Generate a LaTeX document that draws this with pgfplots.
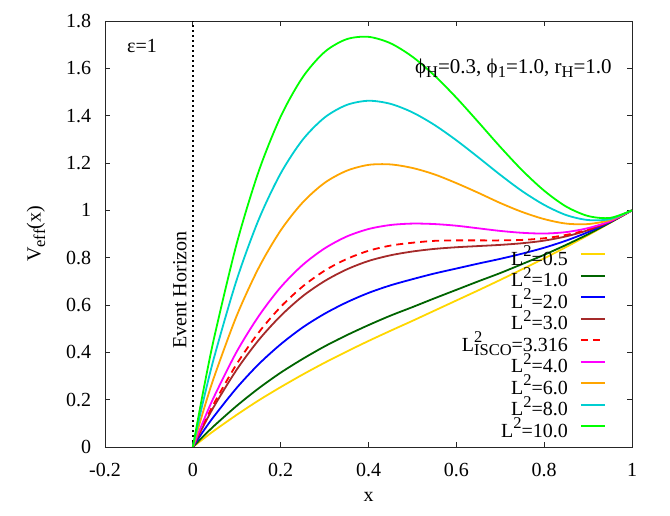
\documentclass[border=0pt]{standalone}
\usepackage{fontspec}
\setmainfont{Liberation Serif}
\usepackage{pgfplots}
\pgfplotsset{compat=1.18}
\definecolor{lcgold}{RGB}{255,215,0}
\definecolor{lcdgreen}{RGB}{0,100,0}
\definecolor{lcblue}{RGB}{0,0,255}
\definecolor{lcbrown}{RGB}{165,42,42}
\definecolor{lcred}{RGB}{255,0,0}
\definecolor{lcmag}{RGB}{255,0,255}
\definecolor{lcorange}{RGB}{255,165,0}
\definecolor{lccyan}{RGB}{0,206,209}
\definecolor{lcgreen}{RGB}{0,255,0}
\newcommand\sups[1]{\raisebox{0.42em}{\fontsize{16.5}{16}\selectfont #1}}
\newcommand\subs[1]{\raisebox{-0.22em}{\fontsize{16.5}{16}\selectfont #1}}
\begin{document}
\fontsize{20}{24}\selectfont
\begin{tikzpicture}[font=\fontsize{20}{24}\selectfont]
\useasboundingbox (-105pt,-69pt) rectangle (565pt,447pt);
\begin{axis}[
  at={(0,0)}, anchor=south west,
  scale only axis, width=527pt, height=426pt,
  xmin=-0.2, xmax=1, ymin=0, ymax=1.8,
  xtick={-0.2,0,0.2,0.4,0.6,0.8,1},
  ytick={0,0.2,0.4,0.6,0.8,1,1.2,1.4,1.6,1.8},
  /pgf/number format/assume math mode=true,
  tick label style={font=\fontsize{20}{24}\selectfont},
  xticklabel style={yshift=-9pt},
  yticklabel style={xshift=-7pt},
  major tick length=5pt,
  axis line style={black!85, line width=0.9pt},
  tick style={black!85, line width=0.9pt},
  xlabel={x}, ylabel={V\subs{eff}(x)},
  every axis x label/.style={at={(axis description cs:0.5,-0.117)}, anchor=center},
  every axis y label/.style={at={(axis description cs:-0.131,0.5)}, rotate=90, anchor=center},
  legend plot pos=right,
  legend cell align=right,
  legend style={draw=none, fill=none, at={(axis description cs:0.951,0.0106)}, anchor=south east,
    inner sep=0pt, row sep=0pt, column sep=11pt,
    nodes={inner sep=1pt, text height=15.5pt, text depth=4pt},
    font=\fontsize{20}{24}\selectfont},
  legend image code/.code={\draw[#1, line width=2pt] (0pt,5.5pt) -- (24pt,5.5pt);},
  every axis plot/.append style={line width=1.8pt, smooth},
]
\addplot[black, line width=1.5pt, dash pattern=on 2pt off 3pt, forget plot, sharp plot] coordinates {(0,0) (0,1.8)};
\addplot[draw=lcgold] coordinates {(0,0) (0.025,0.036) (0.05,0.071) (0.1,0.136) (0.15,0.197) (0.2,0.253) (0.25,0.306) (0.3,0.356) (0.35,0.403) (0.4,0.448) (0.45,0.491) (0.5,0.533) (0.55,0.576) (0.6,0.619) (0.65,0.662) (0.7,0.706) (0.75,0.751) (0.8,0.797) (0.85,0.845) (0.9,0.895) (0.95,0.947) (1,1)};
\addlegendentry{L\sups{2}=0.5}
\addplot[draw=lcdgreen] coordinates {(0,0) (0.025,0.047) (0.05,0.092) (0.1,0.174) (0.15,0.248) (0.2,0.314) (0.25,0.372) (0.3,0.425) (0.35,0.472) (0.4,0.515) (0.45,0.555) (0.5,0.591) (0.55,0.628) (0.6,0.664) (0.65,0.700) (0.7,0.735) (0.75,0.773) (0.8,0.812) (0.85,0.854) (0.9,0.899) (0.95,0.948) (1,1)};
\addlegendentry{L\sups{2}=1.0}
\addplot[draw=lcblue] coordinates {(0,0) (0.025,0.070) (0.05,0.134) (0.1,0.250) (0.15,0.350) (0.2,0.434) (0.25,0.505) (0.3,0.563) (0.35,0.611) (0.4,0.651) (0.45,0.683) (0.5,0.709) (0.55,0.733) (0.6,0.754) (0.65,0.775) (0.7,0.795) (0.75,0.817) (0.8,0.842) (0.85,0.872) (0.9,0.908) (0.95,0.950) (1,1)};
\addlegendentry{L\sups{2}=2.0}
\addplot[draw=lcbrown] coordinates {(0,0) (0.025,0.092) (0.05,0.177) (0.1,0.327) (0.15,0.452) (0.2,0.554) (0.25,0.637) (0.3,0.701) (0.35,0.750) (0.4,0.786) (0.45,0.810) (0.5,0.826) (0.55,0.837) (0.6,0.844) (0.65,0.849) (0.7,0.854) (0.75,0.861) (0.8,0.872) (0.85,0.890) (0.9,0.916) (0.95,0.952) (1,1)};
\addlegendentry{L\sups{2}=3.0}
\addplot[draw=lcred, dash pattern=on 7pt off 5pt] coordinates {(0,0) (0.025,0.099) (0.05,0.190) (0.1,0.351) (0.15,0.484) (0.2,0.592) (0.25,0.678) (0.3,0.745) (0.35,0.794) (0.4,0.829) (0.45,0.851) (0.5,0.863) (0.55,0.871) (0.6,0.873) (0.65,0.873) (0.7,0.873) (0.75,0.875) (0.8,0.882) (0.85,0.896) (0.9,0.919) (0.95,0.953) (1,1)};
\addlegendentry{L\rlap{\sups{2}}\subs{ISCO}=3.316}
\addplot[draw=lcmag] coordinates {(0,0) (0.025,0.114) (0.05,0.219) (0.1,0.403) (0.15,0.553) (0.2,0.675) (0.25,0.769) (0.3,0.839) (0.35,0.889) (0.4,0.921) (0.45,0.938) (0.5,0.944) (0.55,0.942) (0.6,0.935) (0.65,0.924) (0.7,0.913) (0.75,0.905) (0.8,0.902) (0.85,0.908) (0.9,0.925) (0.95,0.954) (1,1)};
\addlegendentry{L\sups{2}=4.0}
\addplot[draw=lcorange] coordinates {(0,0) (0.025,0.159) (0.05,0.304) (0.1,0.555) (0.15,0.757) (0.2,0.915) (0.25,1.033) (0.3,1.116) (0.35,1.167) (0.4,1.192) (0.45,1.194) (0.5,1.179) (0.55,1.152) (0.6,1.115) (0.65,1.074) (0.7,1.031) (0.75,0.993) (0.8,0.963) (0.85,0.944) (0.9,0.942) (0.95,0.959) (1,1)};
\addlegendentry{L\sups{2}=6.0}
\addplot[draw=lccyan] coordinates {(0,0) (0.025,0.204) (0.05,0.389) (0.1,0.707) (0.15,0.961) (0.2,1.156) (0.25,1.298) (0.3,1.392) (0.35,1.445) (0.4,1.463) (0.45,1.450) (0.5,1.414) (0.55,1.361) (0.6,1.296) (0.65,1.224) (0.7,1.150) (0.75,1.081) (0.8,1.023) (0.85,0.980) (0.9,0.959) (0.95,0.963) (1,1)};
\addlegendentry{L\sups{2}=8.0}
\addplot[draw=lcgreen] coordinates {(0,0) (0.025,0.248) (0.05,0.474) (0.1,0.860) (0.15,1.165) (0.2,1.396) (0.25,1.562) (0.3,1.669) (0.35,1.723) (0.4,1.733) (0.45,1.706) (0.5,1.649) (0.55,1.570) (0.6,1.476) (0.65,1.373) (0.7,1.268) (0.75,1.169) (0.8,1.083) (0.85,1.016) (0.9,0.976) (0.95,0.968) (1,1)};
\addlegendentry{L\sups{2}=10.0}
\node[anchor=west, inner sep=0pt] at (axis cs:-0.150,1.694) {ε=1};
\node[anchor=east, inner sep=0pt, font=\fontsize{21}{24}\selectfont] at (axis cs:0.954,1.601) {ϕ\subs{H}=0.3, ϕ\subs{1}=1.0, r\subs{H}=1.0};
\node[rotate=90] at (axis cs:-0.0296,0.663) {Event Horizon};
\end{axis}
\end{tikzpicture}
\end{document}
